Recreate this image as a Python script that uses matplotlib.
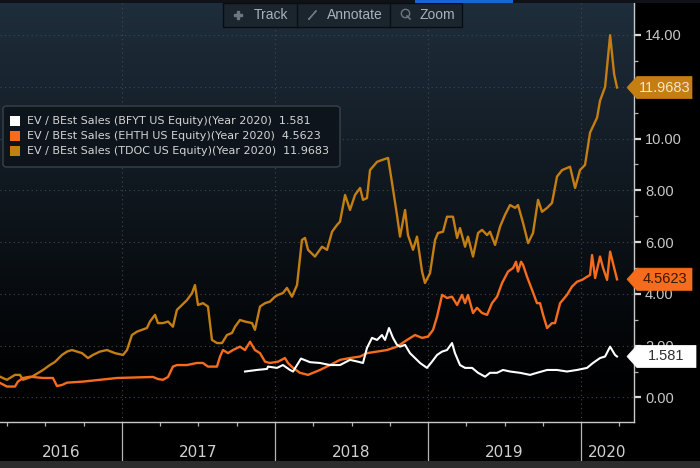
import numpy as np
import matplotlib.pyplot as plt
from matplotlib import font_manager, transforms
from matplotlib.colors import LinearSegmentedColormap
from matplotlib.patches import Polygon, Rectangle, FancyBboxPatch

# EV / BEst Sales, decimal years
tdoc_t = [2016.203, 2016.248, 2016.301, 2016.333, 2016.353, 2016.412, 2016.484, 2016.529, 2016.562, 2016.608,
          2016.641, 2016.673, 2016.706, 2016.739, 2016.778, 2016.810, 2016.856, 2016.902, 2016.954, 2017.007,
          2017.033, 2017.065, 2017.098, 2017.131, 2017.163, 2017.183, 2017.216, 2017.235, 2017.268, 2017.301,
          2017.333, 2017.359, 2017.392, 2017.425, 2017.458, 2017.477, 2017.497, 2017.529, 2017.562, 2017.588,
          2017.621, 2017.654, 2017.686, 2017.719, 2017.739, 2017.771, 2017.804, 2017.850, 2017.869, 2017.902,
          2017.935, 2017.967, 2018.000, 2018.020, 2018.052, 2018.078, 2018.111, 2018.144, 2018.176, 2018.196,
          2018.216, 2018.261, 2018.307, 2018.340, 2018.373, 2018.405, 2018.425, 2018.458, 2018.490, 2018.523,
          2018.556, 2018.575, 2018.601, 2018.621, 2018.667, 2018.699, 2018.739, 2018.765, 2018.797, 2018.817,
          2018.850, 2018.869, 2018.902, 2018.928, 2018.961, 2018.980, 2019.013, 2019.046, 2019.065, 2019.098,
          2019.124, 2019.163, 2019.190, 2019.209, 2019.242, 2019.261, 2019.294, 2019.327, 2019.353, 2019.386,
          2019.405, 2019.438, 2019.471, 2019.503, 2019.536, 2019.569, 2019.588, 2019.621, 2019.654, 2019.686,
          2019.719, 2019.745, 2019.778, 2019.810, 2019.843, 2019.876, 2019.908, 2019.928, 2019.961, 2019.993,
          2020.026, 2020.059, 2020.105, 2020.124, 2020.157, 2020.190, 2020.216, 2020.235]
tdoc_v = [0.80, 0.68, 0.87, 0.87, 0.68, 0.80, 1.06, 1.25, 1.37, 1.64,
          1.77, 1.83, 1.77, 1.71, 1.52, 1.64, 1.77, 1.83, 1.71, 1.64,
          1.83, 2.41, 2.54, 2.61, 2.68, 2.93, 3.19, 2.87, 2.87, 2.93,
          2.73, 3.38, 3.57, 3.76, 4.03, 4.34, 3.57, 3.64, 3.51, 2.22,
          2.10, 2.10, 2.41, 2.49, 2.73, 2.99, 2.93, 2.87, 2.61, 3.51,
          3.64, 3.70, 3.89, 3.96, 4.03, 4.23, 3.89, 4.34, 6.08, 6.16,
          5.70, 5.44, 5.82, 5.70, 6.40, 6.66, 6.79, 7.82, 7.24, 7.82,
          8.09, 7.63, 7.70, 8.78, 9.10, 9.17, 9.25, 8.28, 7.05, 6.21,
          7.24, 6.27, 5.70, 6.21, 4.86, 4.42, 4.80, 6.08, 6.35, 6.40,
          6.98, 6.98, 6.16, 6.54, 5.82, 6.21, 5.44, 6.35, 6.47, 6.27,
          6.40, 5.89, 6.60, 7.05, 7.43, 7.32, 7.43, 6.74, 5.96, 6.35,
          7.63, 7.17, 7.32, 7.51, 8.53, 8.78, 8.86, 8.91, 8.09, 8.78,
          8.98, 10.23, 10.81, 11.46, 11.99, 13.99, 12.49, 11.97]

ehth_t = [2016.203, 2016.248, 2016.301, 2016.320, 2016.353, 2016.399, 2016.484, 2016.549, 2016.575, 2016.608,
          2016.641, 2016.745, 2016.967, 2017.203, 2017.235, 2017.268, 2017.301, 2017.333, 2017.359, 2017.425,
          2017.490, 2017.529, 2017.562, 2017.621, 2017.641, 2017.660, 2017.693, 2017.725, 2017.771, 2017.804,
          2017.837, 2017.869, 2017.902, 2017.935, 2017.967, 2018.020, 2018.065, 2018.085, 2018.118, 2018.163,
          2018.216, 2018.294, 2018.359, 2018.425, 2018.490, 2018.556, 2018.601, 2018.667, 2018.732, 2018.797,
          2018.863, 2018.915, 2018.961, 2019.000, 2019.033, 2019.059, 2019.092, 2019.124, 2019.157, 2019.190,
          2019.222, 2019.242, 2019.261, 2019.294, 2019.320, 2019.353, 2019.386, 2019.418, 2019.451, 2019.484,
          2019.523, 2019.556, 2019.575, 2019.588, 2019.608, 2019.621, 2019.647, 2019.680, 2019.712, 2019.732,
          2019.752, 2019.778, 2019.810, 2019.830, 2019.863, 2019.908, 2019.941, 2019.974, 2020.007, 2020.039,
          2020.059, 2020.072, 2020.092, 2020.124, 2020.144, 2020.170, 2020.190, 2020.235]
ehth_v = [0.56, 0.42, 0.42, 0.61, 0.75, 0.80, 0.75, 0.75, 0.44, 0.48,
          0.57, 0.61, 0.75, 0.79, 0.71, 0.68, 0.79, 1.19, 1.25, 1.25,
          1.33, 1.33, 1.19, 1.19, 1.58, 1.83, 1.71, 1.83, 1.96, 1.83,
          2.15, 1.83, 1.71, 1.38, 1.33, 1.38, 1.52, 1.33, 1.14, 0.95,
          0.87, 1.06, 1.25, 1.45, 1.52, 1.58, 1.71, 1.77, 1.83, 1.96,
          2.22, 2.41, 2.30, 2.35, 2.61, 3.12, 3.96, 3.84, 3.89, 3.57,
          3.96, 3.64, 3.96, 3.26, 3.46, 3.26, 3.19, 3.64, 3.89, 4.42,
          4.86, 5.00, 5.24, 4.86, 5.24, 5.12, 4.66, 4.15, 3.64, 3.64,
          3.19, 2.68, 2.87, 2.87, 3.64, 3.96, 4.28, 4.47, 4.54, 4.66,
          4.73, 5.50, 4.61, 5.44, 5.00, 4.54, 5.63, 4.56]

bfyt_t = [2017.804, 2017.882, 2017.948, 2017.954, 2018.013, 2018.052, 2018.098, 2018.118, 2018.170, 2018.229,
          2018.294, 2018.359, 2018.425, 2018.490, 2018.542, 2018.575, 2018.601, 2018.634, 2018.667, 2018.699,
          2018.719, 2018.745, 2018.771, 2018.797, 2018.817, 2018.850, 2018.882, 2018.915, 2018.948, 2018.993,
          2019.026, 2019.059, 2019.092, 2019.124, 2019.157, 2019.176, 2019.209, 2019.242, 2019.288, 2019.327,
          2019.373, 2019.405, 2019.451, 2019.490, 2019.536, 2019.601, 2019.667, 2019.712, 2019.778, 2019.843,
          2019.908, 2019.974, 2020.039, 2020.078, 2020.124, 2020.157, 2020.190, 2020.222, 2020.235]
bfyt_v = [1.00, 1.06, 1.10, 1.19, 1.14, 1.25, 1.06, 1.00, 1.50, 1.36,
          1.33, 1.25, 1.25, 1.45, 1.38, 1.33, 1.91, 2.30, 2.22, 2.41,
          2.22, 2.68, 2.30, 2.03, 1.96, 2.03, 1.71, 1.52, 1.33, 1.14,
          1.38, 1.64, 1.77, 1.83, 2.10, 1.71, 1.25, 1.14, 1.14, 0.95,
          0.80, 0.95, 0.95, 1.06, 1.00, 0.95, 0.87, 0.95, 1.06, 1.06,
          1.00, 1.06, 1.14, 1.33, 1.52, 1.58, 1.96, 1.64, 1.58]

series_names = ['EV / BEst Sales (BFYT US Equity)(Year 2020)',
                'EV / BEst Sales (EHTH US Equity)(Year 2020)',
                'EV / BEst Sales (TDOC US Equity)(Year 2020)']
last_values = [1.581, 4.5623, 11.9683]
last_labels = ['1.581', '4.5623', '11.9683']
colors = ['#ffffff', '#f56c1c', '#c47e12']
tag_text_colors = ['#303030', '#3a1800', '#f3e6cc']
years = [2016, 2017, 2018, 2019, 2020]
toolbar_items = ['Track', 'Annotate', 'Zoom']

avail = {f.name for f in font_manager.fontManager.ttflist}
regular = 'Liberation Sans' if 'Liberation Sans' in avail else 'DejaVu Sans'

W, H = 700, 468
def px(x, y):
    return x / W, 1 - y / H

fig = plt.figure(figsize=(7, 4.68), dpi=100, facecolor='black')
ax = fig.add_axes([0, 46 / H, 634 / W, 422 / H])
x0, x1 = 2016.203, 2020.346
y0, y1 = -0.95, 15.35

# dark navy-to-black background
bg = LinearSegmentedColormap.from_list('bg', [(0, '#000000'), (0.12, '#010203'), (1, '#1f2e3c')])
ax.imshow(np.linspace(0, 1, 256).reshape(-1, 1), extent=[x0, x1, y0, y1], origin='lower',
          aspect='auto', cmap=bg, zorder=0)
ax.set_xlim(x0, x1)
ax.set_ylim(y0, y1)

ax.plot(tdoc_t, tdoc_v, color=colors[2], lw=1.7, zorder=3)
ax.plot(ehth_t, ehth_v, color=colors[1], lw=1.7, zorder=4)
ax.plot(bfyt_t, bfyt_v, color=colors[0], lw=1.5, zorder=5)

# axes styling
for s in ['left', 'top']:
    ax.spines[s].set_visible(False)
for s in ['right', 'bottom']:
    ax.spines[s].set_color('#c8c8c8')
    ax.spines[s].set_linewidth(1)

ax.set_xticks(years[1:])
ax.set_xticks([y + q / 4 for y in years for q in range(4) if x0 < y + q / 4 < x1], minor=True)
ax.tick_params(axis='x', which='major', length=28, width=0.9, color='#b4b4b4', labelbottom=False)
ax.tick_params(axis='x', which='minor', length=3, width=0.9, color='#b4b4b4')
ax.yaxis.tick_right()
yt = np.arange(0, 15, 2)
ax.set_yticks(yt)
ax.set_yticks(np.arange(1, 15, 2), minor=True)
# 12.00 sits fully under the TDOC value tag
ax.set_yticklabels(['' if v == 12 else f'{v:.2f}' for v in yt])
ax.tick_params(axis='y', which='major', length=5, width=1.6, color='#d8d8d8', labelsize=10.5,
               labelcolor='#c8c8c8', pad=3)
ax.tick_params(axis='y', which='minor', length=3, width=0.9, color='#b4b4b4')
for lab in ax.get_yticklabels():
    lab.set_fontfamily(regular)
ax.grid(axis='both', which='major', color='#3d4852', linestyle=(0, (1, 3)), lw=0.8)

# year labels centred in their visible span
xt = ax.get_xaxis_transform()
for y in years:
    a, b = max(y, x0), min(y + 1, x1)
    ax.text((a + b) / 2, -0.072, str(y), transform=xt, ha='center', va='center',
            fontsize=11, color='#d0d0d0', clip_on=False)

# last value tags on the right axis
bt = transforms.blended_transform_factory(fig.transFigure, ax.transData)
for v, lab, c, tc in zip(last_values, last_labels, colors, tag_text_colors):
    h = 0.43
    right = 692 if lab != '1.581' else 696
    pts = [(627 / W, v), (637 / W, v + h), (right / W, v + h), (right / W, v - h), (637 / W, v - h)]
    ax.add_patch(Polygon(pts, closed=True, transform=bt, facecolor=c, edgecolor=c, lw=0.5,
                         clip_on=False, zorder=10))
    ax.text((637 + right) / 2 / W, v, lab, transform=bt, ha='center', va='center', fontsize=10.5,
            color=tc, family=regular, clip_on=False, zorder=11)

# legend box
lx, ly = px(3, 167)
lw_, lh_ = 337 / W, 61 / H
fig.patches.append(FancyBboxPatch((lx, ly), lw_, lh_, boxstyle='round,pad=0,rounding_size=0.006',
                                  transform=fig.transFigure, facecolor='#0d141b', edgecolor='#3a4249',
                                  lw=1, zorder=20))
for i, (name, lab, c) in enumerate(zip(series_names, last_labels, colors)):
    yc = 121 + 15 * i
    sx, sy = px(10, yc + 5)
    fig.patches.append(Rectangle((sx, sy), 10 / W, 10 / H, transform=fig.transFigure,
                                 facecolor=c, edgecolor='none', zorder=21))
    tx, ty = px(27, yc)
    fig.text(tx, ty, f'{name}  {lab}', ha='left', va='center', fontsize=8, color='#d4d4d4',
             zorder=22)

# toolbar at the top
tbx, tby = px(223, 27)
fig.patches.append(Rectangle((tbx, tby), 239 / W, 24 / H, transform=fig.transFigure,
                             facecolor='#1b252e', edgecolor='#090d11', lw=1, zorder=20))
for xd in [297, 390]:
    fig.add_artist(plt.Line2D([xd / W, xd / W], [1 - 27 / H, 1 - 3 / H], color='#0b1015', lw=1, zorder=21))
icon_x = [238, 312, 407]
text_x = [254, 327, 420]
for ix, tx, lab in zip(icon_x, text_x, toolbar_items):
    fig.text(tx / W, 1 - 15 / H, lab, ha='left', va='center', fontsize=10, color='#a9b1b9',
             family=regular, zorder=22)
fig.add_artist(plt.Line2D([238 / W], [1 - 15 / H], marker='P', ms=6, color='#6e7780', zorder=22))
fig.add_artist(plt.Line2D([309 / W, 316 / W, 309 / W], [1 - 19 / H, 1 - 11 / H, 1 - 19 / H],
                          color='#6e7780', lw=1, zorder=22))
fig.add_artist(plt.Line2D([405 / W], [1 - 13 / H], marker='o', ms=6, mfc='none', mec='#6e7780', zorder=22))
fig.add_artist(plt.Line2D([407 / W, 410 / W], [1 - 16 / H, 1 - 19 / H], color='#6e7780', lw=1.2, zorder=22))

# thin strips at top and bottom
fig.patches.append(Rectangle((0, 1 - 3 / H), 1, 3 / H, transform=fig.transFigure,
                             facecolor='#0f1317', edgecolor='none', zorder=19))
fig.patches.append(Rectangle((415 / W, 1 - 3 / H), 98 / W, 3 / H, transform=fig.transFigure,
                             facecolor='#1766d6', edgecolor='none', zorder=20))
fig.patches.append(Rectangle((0, 0), 1, 7 / H, transform=fig.transFigure,
                             facecolor='#2c2c2c', edgecolor='none', zorder=19))

fig.savefig('out.png', dpi=100, facecolor='black')
